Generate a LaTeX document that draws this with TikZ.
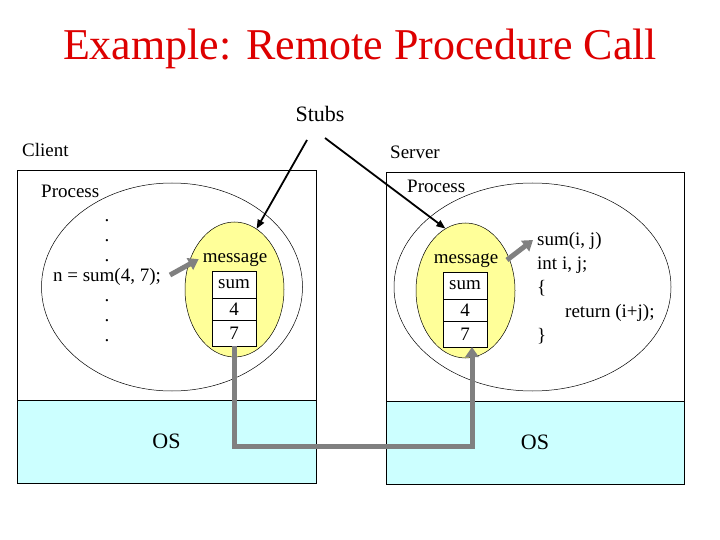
\documentclass[tikz,border=0pt]{standalone}
\usepackage{fontspec}
\setmainfont{Liberation Serif}
\usetikzlibrary{positioning,shapes.geometric,arrows.meta}
\definecolor{titlered}{RGB}{221,0,0}
\definecolor{msgyellow}{RGB}{255,255,153}
\definecolor{oscyan}{RGB}{204,255,255}
\definecolor{pipegray}{RGB}{128,128,128}
\tikzset{
  hostbox/.style={draw, fill=white, line width=0.8pt, minimum width=299pt, minimum height=313pt, inner sep=0pt},
  osbox/.style={draw, fill=oscyan, line width=0.8pt, minimum width=299pt, minimum height=83pt, inner sep=0pt, font=\fontsize{22}{24}\selectfont},
  procring/.style={draw, ellipse, line width=0.5pt, minimum height=208pt, inner sep=0pt},
  stubegg/.style={draw, ellipse, fill=msgyellow, line width=0.5pt, minimum width=99pt, minimum height=135pt, inner sep=0pt},
  cell/.style={draw, fill=white, line width=0.8pt, minimum width=44pt, inner sep=0pt, outer sep=0pt, font=\fontsize{19}{20}\selectfont},
  txt/.style={inner sep=0pt, anchor=base, font=\fontsize{19}{20}\selectfont},
  stub/.style={-{Triangle[length=9pt,width=7pt]}, line width=1.8pt},
  push/.style={-{Triangle[length=10pt,width=13pt]}, draw=pipegray, line width=5pt},
}
\begin{document}
\begin{tikzpicture}[x=1pt,y=-1pt]
  \useasboundingbox (0,0) rectangle (720,540);
  \node (title) [txt, text=titlered, font=\fontsize{44}{48}\selectfont] at (360,60) {Example: Remote Procedure Call};
  \node (stubs) [txt, font=\fontsize{22}{24}\selectfont] at (320,122) {Stubs};

  % client side
  \node (client) [txt, anchor=base west] at (22,157) {Client};
  \node (cbox) [hostbox] at (166.5,326.5) {};
  \node (cos) [osbox] at (166.5,441.5) {OS};
  \node (cproc) [procring, minimum width=261pt] at (172,287) {};
  \node (cproclbl) [txt, anchor=base west] at (41,197) {Process};
  \node (cyel) [stubegg] at (234.5,289.5) {};
  \node (cmsg) [txt] at (235,262) {message};
  \node (csum) [cell, minimum height=27pt] at (234,284.5) {sum};
  \node (c4) [cell, minimum height=22pt, below=0pt of csum] {4};
  \node (c7) [cell, minimum height=26pt, below=0pt of c4] {7};
  % base anchor sits on the last line
  \node (ccode) [txt, align=center] at (107,341) {.\\.\\.\\n = sum(4, 7);\\.\\.\\.};

  % server side
  \node (server) [txt, anchor=base west] at (390,159) {Server};
  \node (sbox) [hostbox, minimum width=298pt, minimum height=312pt] at (535,328) {};
  \node (sos) [osbox, minimum width=298pt] at (535,442.5) {OS};
  \node (sproc) [procring, minimum width=277pt] at (532.5,287) {};
  \node (sproclbl) [txt, anchor=base west] at (407,193) {Process};
  \node (syel) [stubegg] at (465.5,290.5) {};
  \node (smsg) [txt] at (466,263) {message};
  \node (ssum) [cell, minimum height=27pt] at (465,285.5) {sum};
  \node (s4) [cell, minimum height=22pt, below=0pt of ssum] {4};
  \node (s7) [cell, minimum height=26pt, below=0pt of s4] {7};
  \node (scode) [txt, anchor=base west, align=left, font=\fontsize{19}{24}\selectfont] at (537,341)
    {sum(i, j)\\int i, j;\\\{\\\hspace*{28pt}return (i+j);\\\}};

  % arrows
  \coordinate (stubl) at (307,140);
  \coordinate (stubr) at (325,138);
  \coordinate (callpt) at (170,275);
  \coordinate (entrypt) at (533,240);
  \coordinate (replypt) at (507,260);
  \coordinate (bus) at (350,446);
  \draw[stub] (stubl) -- (cyel.70);
  \draw[stub] (stubr) -- (syel.108);
  \draw[push] (callpt) -- ([xshift=-4pt]cmsg.west);
  \draw[push] (replypt) -- (entrypt);
  \draw[push] (c7.south) |- (bus) -| ([xshift=7pt]s7.south);
\end{tikzpicture}
\end{document}
